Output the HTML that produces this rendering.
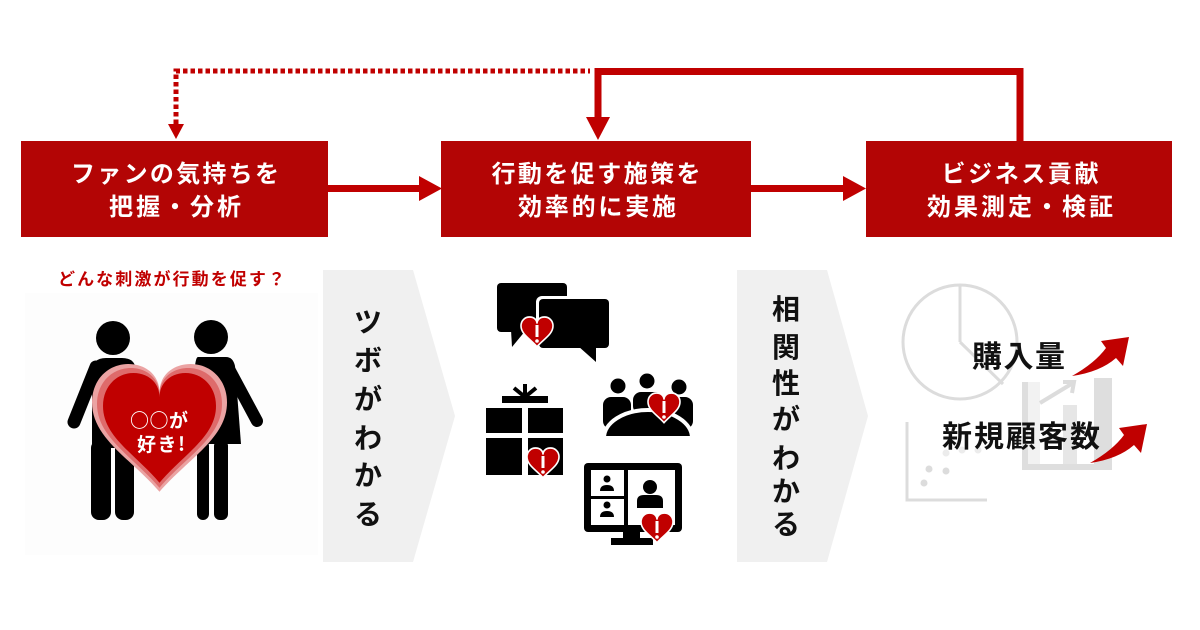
<!DOCTYPE html>
<html><head><meta charset="utf-8"><style>
html,body{margin:0;padding:0;background:#fff;}
svg{display:block;}
text{font-family:"Liberation Sans","Noto Sans CJK JP",sans-serif;font-weight:700;}
</style></head><body>
<svg width="1200" height="630" viewBox="0 0 1200 630" xmlns="http://www.w3.org/2000/svg">
<defs>
<g id="sh">
<path d="M50,20 C50,8 40,0 27,0 C12,0 0,11 0,27 C0,52 28,66 50,90 C72,66 100,52 100,27 C100,11 88,0 73,0 C60,0 50,8 50,20 Z" transform="scale(0.32,0.33)" fill="#c00000" stroke="#fff" stroke-width="5"/>
<rect x="14.5" y="8" width="3" height="12" fill="#fff"/>
<circle cx="16" cy="24" r="1.8" fill="#fff"/>
</g>
</defs>
<rect width="1200" height="630" fill="#fff"/>

<!-- connectors -->
<path d="M176,124 V71 H590" fill="none" stroke="#c00000" stroke-width="5" stroke-dasharray="4.5 3"/>
<polygon points="168,124 184,124 176,139" fill="#c00000"/>
<path d="M1020,141 V71.5 H598 V118" fill="none" stroke="#c00000" stroke-width="7"/>
<polygon points="586,117 610,117 598,140" fill="#c00000"/>
<rect x="328" y="185" width="94" height="7" fill="#c00000"/>
<polygon points="419,176 419,201 442,188.5" fill="#c00000"/>
<rect x="751" y="185" width="95" height="7" fill="#c00000"/>
<polygon points="843,176 843,201 866,188.5" fill="#c00000"/>

<!-- boxes -->
<rect x="21" y="141" width="307" height="96" fill="#b30505"/>
<rect x="441" y="141" width="310" height="96" fill="#b30505"/>
<rect x="866" y="141" width="306" height="96" fill="#b30505"/>
<g fill="#fff" font-size="24" text-anchor="middle">
<text x="175" y="182" textLength="208" lengthAdjust="spacing">ファンの気持ちを</text>
<text x="175" y="215" textLength="132" lengthAdjust="spacing">把握・分析</text>
<text x="596" y="182" textLength="209" lengthAdjust="spacing">行動を促す施策を</text>
<text x="597" y="215" textLength="158" lengthAdjust="spacing">効率的に実施</text>
<text x="1020" y="182" textLength="157" lengthAdjust="spacing">ビジネス貢献</text>
<text x="1020" y="215" textLength="186" lengthAdjust="spacing">効果測定・検証</text>
</g>

<!-- left panel -->
<rect x="25" y="293" width="293" height="262" fill="#fdfdfd"/>
<text x="58" y="285" font-size="17" fill="#c00000" textLength="227" lengthAdjust="spacing">どんな刺激が行動を促す？</text>

<!-- man -->
<g fill="#000">
<circle cx="113" cy="338" r="17"/>
<path d="M92,372 Q92,358 106,358 L122,358 Q136,358 136,372 L136,448 L92,448 Z"/>
<line x1="96" y1="367" x2="74" y2="422" stroke="#000" stroke-width="13" stroke-linecap="round"/>
<rect x="91" y="440" width="20" height="80" rx="8"/>
<rect x="115" y="440" width="19" height="80" rx="8"/>
</g>
<!-- woman -->
<g fill="#000">
<circle cx="211" cy="337" r="17"/>
<path d="M198,357 L226,357 Q233,357 235,366 L241,444 L190,444 L195,366 Q196,357 198,357 Z"/>
<line x1="228" y1="367" x2="257" y2="421" stroke="#000" stroke-width="12" stroke-linecap="round"/>
<rect x="197" y="440" width="12" height="80" rx="6"/>
<rect x="214" y="440" width="14" height="80" rx="6"/>
</g>
<!-- big heart -->
<path d="M50,20 C50,8 40,0 27,0 C12,0 0,11 0,27 C0,52 28,66 50,90 C72,66 100,52 100,27 C100,11 88,0 73,0 C60,0 50,8 50,20 Z" transform="translate(92,364) scale(1.35,1.42)" fill="#eba3a3"/>
<path d="M50,20 C50,8 40,0 27,0 C12,0 0,11 0,27 C0,52 28,66 50,90 C72,66 100,52 100,27 C100,11 88,0 73,0 C60,0 50,8 50,20 Z" transform="translate(97,368) scale(1.25,1.33)" fill="#de6b6b"/>
<path d="M50,20 C50,8 40,0 27,0 C12,0 0,11 0,27 C0,52 28,66 50,90 C72,66 100,52 100,27 C100,11 88,0 73,0 C60,0 50,8 50,20 Z" transform="translate(103,373) scale(1.13,1.22)" fill="#c00000"/>
<text x="159" y="427" font-size="19" fill="#fff" text-anchor="middle" textLength="58" lengthAdjust="spacing" style="font-family:'Noto Sans CJK JP','Liberation Sans',sans-serif">○○が</text>
<text x="161" y="451" font-size="19" fill="#fff" text-anchor="middle" textLength="48" lengthAdjust="spacing" style="font-family:'Noto Sans CJK JP','Liberation Sans',sans-serif">好き!</text>

<!-- chevron 1 -->
<polygon points="323,270 413,270 455,416 413,562 323,562" fill="#f0f0f0"/>
<g font-size="28" fill="#111" text-anchor="middle">
<text x="368" y="332">ツ</text>
<text x="368" y="370">ボ</text>
<text x="368" y="409">が</text>
<text x="368" y="448">わ</text>
<text x="368" y="485">か</text>
<text x="368" y="524">る</text>
</g>

<!-- middle icons -->
<rect x="497" y="283" width="70" height="49" rx="4" fill="#000"/>
<polygon points="511,330 526,330 512,347" fill="#000"/>
<rect x="536" y="296" width="76" height="55" rx="6" fill="#fff"/>
<rect x="539" y="299" width="70" height="49" rx="4" fill="#000"/>
<polygon points="578,346 596,346 596,362" fill="#000"/>
<use href="#sh" x="521" y="317"/>

<!-- gift -->
<g stroke="#000" stroke-width="4">
<line x1="525" y1="397" x2="514" y2="388"/>
<line x1="525" y1="397" x2="525" y2="384"/>
<line x1="525" y1="397" x2="536" y2="388"/>
</g>
<rect x="502" y="396" width="46" height="7" fill="#000"/>
<rect x="486" y="408" width="36" height="25" fill="#000"/>
<rect x="528" y="408" width="35" height="25" fill="#000"/>
<rect x="486" y="438" width="36" height="37" fill="#000"/>
<rect x="528" y="438" width="35" height="37" fill="#000"/>
<use href="#sh" x="527" y="448"/>

<!-- meeting -->
<g fill="#000">
<circle cx="618" cy="386" r="7.5"/>
<circle cx="647" cy="381" r="7.5"/>
<circle cx="679" cy="387" r="7.5"/>
<rect x="603" y="397" width="28" height="32" rx="8"/>
<rect x="633" y="392" width="30" height="22" rx="8"/>
<rect x="665" y="397" width="28" height="32" rx="8"/>
</g>
<path d="M604,438 A44,28 0 0 1 692,438 Z" fill="#000" stroke="#fff" stroke-width="4"/>
<rect x="598" y="438" width="100" height="4" fill="#fff"/>
<use href="#sh" x="648" y="393"/>

<!-- monitor -->
<rect x="584" y="463" width="98" height="69" rx="4" fill="#000"/>
<rect x="591" y="470" width="84" height="55" fill="#fff"/>
<rect x="624" y="470" width="4" height="55" fill="#000"/>
<rect x="591" y="496" width="33" height="3" fill="#000"/>
<g fill="#000">
<circle cx="607" cy="479" r="3.5"/>
<path d="M600,491 Q600,485 607,485 Q614,485 614,491 Z"/>
<circle cx="607" cy="505" r="3.5"/>
<path d="M600,517 Q600,511 607,511 Q614,511 614,517 Z"/>
<circle cx="650" cy="487" r="7"/>
<path d="M637,508 L637,501 Q637,495 644,495 L656,495 Q663,495 663,501 L663,508 Z"/>
<rect x="623" y="532" width="17" height="6"/>
<rect x="611" y="538" width="42" height="7"/>
</g>
<use href="#sh" x="641" y="513"/>

<!-- chevron 2 -->
<polygon points="737,270 827,270 868,416 827,562 737,562" fill="#f0f0f0"/>
<g font-size="28" fill="#111" text-anchor="middle">
<text x="786" y="319">相</text>
<text x="786" y="357">関</text>
<text x="786" y="393">性</text>
<text x="786" y="429">が</text>
<text x="786" y="468">わ</text>
<text x="786" y="501">か</text>
<text x="786" y="534">る</text>
</g>

<!-- right section background graphics -->
<g fill="none" stroke="#dcdcdc" stroke-width="3">
<circle cx="960" cy="342" r="57"/>
<line x1="960" y1="285" x2="960" y2="342"/>
<line x1="960" y1="342" x2="1003" y2="384"/>
<polyline points="907,422 907,500 987,500"/>
</g>
<g fill="#dcdcdc">
<circle cx="929" cy="469" r="3.5"/>
<circle cx="946" cy="471" r="3.5"/>
<circle cx="924" cy="483" r="3.5"/>
</g>
<g fill="#ececec">
<circle cx="946" cy="453" r="3.5"/>
<circle cx="962" cy="450" r="3.5"/>
<circle cx="978" cy="450" r="3.5"/>
</g>
<rect x="1022" y="382" width="6" height="88" fill="#dedede"/>
<rect x="1028" y="382" width="12" height="84" fill="#f2f2f2"/>
<rect x="1063" y="405" width="14" height="60" fill="#e6e6e6"/>
<rect x="1094" y="378" width="18" height="88" fill="#dedede"/>
<rect x="1022" y="464" width="90" height="6" fill="#dedede"/>
<g stroke="#dcdcdc" stroke-width="4" fill="none">
<line x1="1040" y1="403" x2="1073" y2="383"/>
<polyline points="1063,382 1074,382 1072,393"/>
</g>

<g font-size="30" fill="#111">
<text x="972" y="367" textLength="93" lengthAdjust="spacing">購入量</text>
<text x="942" y="447" textLength="158" lengthAdjust="spacing">新規顧客数</text>
</g>

<path d="M1072,376 Q1095,363 1106,348 L1101,341 L1129,337 L1123,366 L1116,358 Q1100,372 1072,376 Z" fill="#c00000"/>
<path d="M1072,376 Q1095,363 1106,348 L1101,341 L1129,337 L1123,366 L1116,358 Q1100,372 1072,376 Z" fill="#c00000" transform="translate(18,87)"/>
</svg>
</body></html>
